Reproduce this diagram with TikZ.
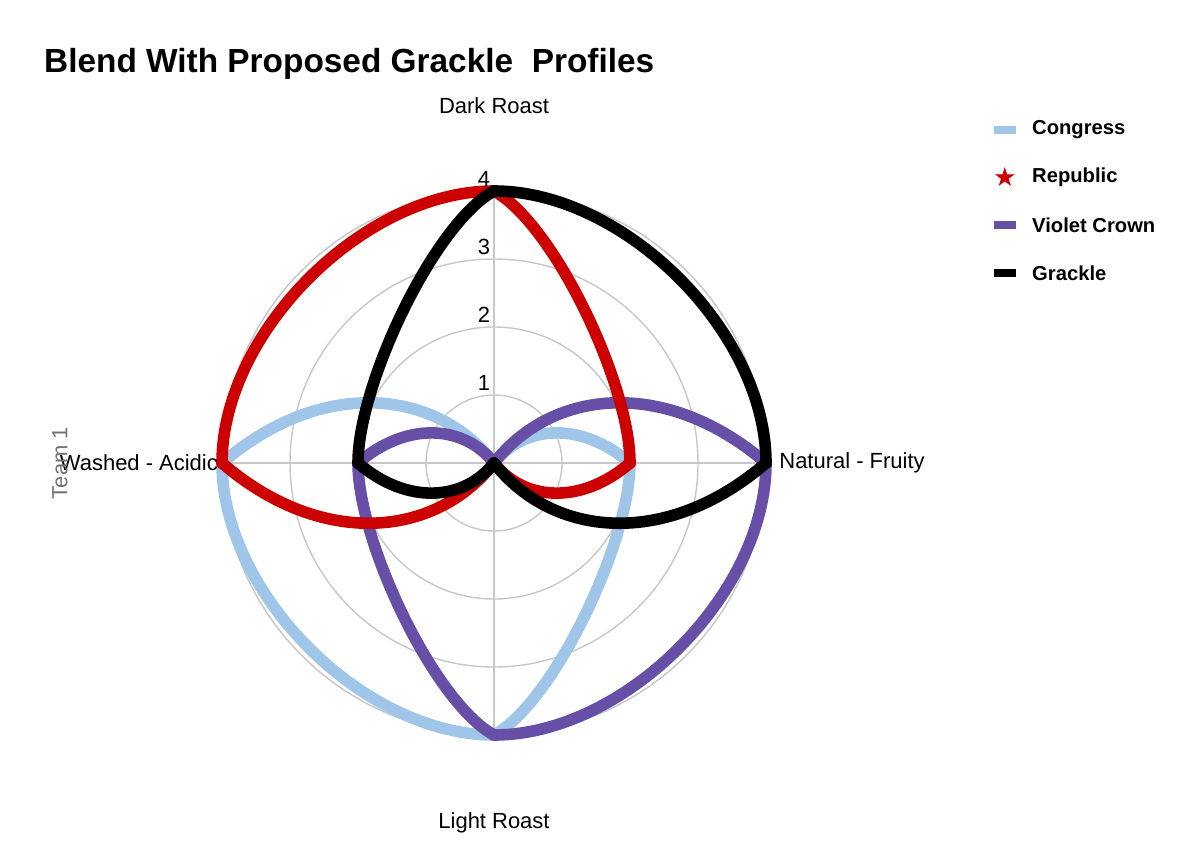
\documentclass[tikz,border=0pt]{standalone}
\usepackage{fontspec}
\setmainfont{Liberation Sans}
\newfontfamily\symbolfont{DejaVu Sans}
\definecolor{congress}{HTML}{9FC5E8}
\definecolor{republic}{HTML}{CC0000}
\definecolor{violet}{HTML}{674EA7}
\tikzset{
    grid line/.style={draw=black!22, line width=0.8pt},
    profile/.style={line width=6.6pt, line cap=round, line join=round},
    axis label/.style={font=\fontsize{12.5}{14}\selectfont},
    legend text/.style={font=\bfseries\fontsize{11.5}{13}\selectfont, anchor=west},
    legend line/.style={line width=5pt},
}
% one quarter of a profile: rotation of the outer point, turn (1 clockwise, -1 counter), outer radius, style
\newcommand{\lobezero}[4]{%
    \begin{scope}[rotate=#1, yscale=#2]
        \draw[profile, #4] (#3,0) .. controls ({.64*#3},{-.31*#3}) and ({.22*#3},{-.28*#3}) .. (0,0);
    \end{scope}}
\newcommand{\lobehalf}[4]{%
    \begin{scope}[rotate=#1, yscale=#2]
        \draw[profile, #4] (#3,0) .. controls ({.88*#3},{-.22*#3}) and ({.29*#3},{-.5*#3}) .. (0,{-.5*#3});
    \end{scope}}
\newcommand{\lobefull}[4]{%
    \begin{scope}[rotate=#1, yscale=#2]
        \draw[profile, #4] (#3,0) .. controls (#3,{-.48*#3}) and ({.48*#3},-#3) .. (0,-#3);
    \end{scope}}
\begin{document}
\begin{tikzpicture}[x=0.02cm,y=0.02cm]
    \useasboundingbox (0,0) rectangle (1200,-856);
    \node[anchor=west, font=\bfseries\fontsize{19}{21}\selectfont] (title) at (38,-64) {Blend With Proposed Grackle\ \ Profiles};

    \begin{scope}[shift={(494,-463)}]
        % rings and spokes
        \foreach \r in {1,2,3,4} {
            \draw[grid line] (0,0) circle ({\r*68});
        }
        \draw[grid line] (0,272) -- (0,-272);
        \draw[grid line] (-272,0) -- (272,0);

        % Congress
        \lobezero{0}{-1}{136}{congress}
        \lobehalf{-90}{-1}{272}{congress}
        \lobefull{-90}{1}{272}{congress}
        \lobezero{180}{1}{272}{congress}
        % Violet Crown
        \lobezero{0}{-1}{272}{violet}
        \lobefull{0}{1}{272}{violet}
        \lobehalf{-90}{1}{272}{violet}
        \lobezero{180}{1}{136}{violet}
        % Republic
        \lobehalf{90}{1}{272}{republic}
        \lobezero{0}{1}{136}{republic}
        \lobezero{180}{-1}{272}{republic}
        \lobefull{180}{1}{272}{republic}
        % Grackle
        \lobefull{90}{1}{272}{black}
        \lobezero{0}{1}{272}{black}
        \lobezero{180}{-1}{136}{black}
        \lobehalf{90}{-1}{272}{black}

        \foreach \r in {1,2,3} {
            \node[axis label] (tick\r) at (-10,{\r*68+12}) {\r};
        }
        \node[axis label] (tick4) at (-10,284) {4};

        \node[axis label] (dark) at (0,357) {Dark Roast};
        \node[axis label] (natural) at (358,0) {Natural - Fruity};
        \node[axis label] (light) at (0,-360) {Light Roast};
        \node[axis label, anchor=east] (washed) at (-270,0) {Washed - Acidic};
    \end{scope}

    \node[axis label, text=black!55, rotate=90] (team) at (60,-463) {Team 1};

    % legend
    \draw[legend line, congress] (994,-130) -- (1016,-130);
    \node[legend text] (lcongress) at (1026,-130) {Congress};
    \node[republic, font=\symbolfont\fontsize{15}{15}\selectfont] (star) at (1005,-177) {★};
    \node[legend text] (lrepublic) at (1026,-177) {Republic};
    \draw[legend line, violet] (994,-225) -- (1016,-225);
    \node[legend text] (lviolet) at (1026,-225) {Violet Crown};
    \draw[legend line, black] (994,-273) -- (1016,-273);
    \node[legend text] (lgrackle) at (1026,-273) {Grackle};
\end{tikzpicture}
\end{document}
